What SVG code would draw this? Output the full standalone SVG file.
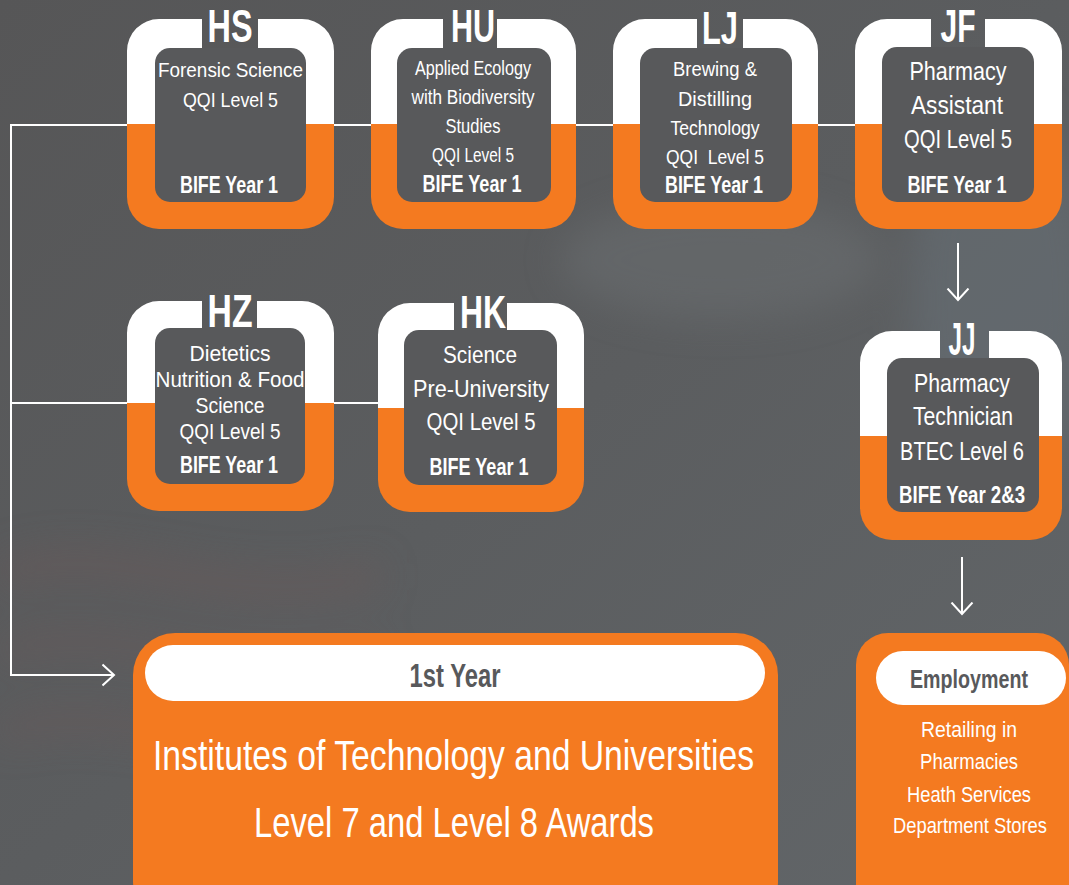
<svg xmlns="http://www.w3.org/2000/svg" width="1069" height="885" viewBox="0 0 1069 885">
<defs>
<style>
.w{fill:#ffffff}
.o{fill:#f47a20}
.in{fill:#58595b}
.t{font-family:"Liberation Sans Narrow","Liberation Sans",Arial,sans-serif;fill:#ffffff;text-anchor:middle}
.b{font-weight:bold}
.ttl{font-size:47px;font-weight:bold}
.g{fill:#58595b}
.con{fill:none;stroke:#ffffff;stroke-width:2}
</style>
<linearGradient id="bg" x1="0" y1="0" x2="1" y2="1">
<stop offset="0" stop-color="#565657"/>
<stop offset="0.5" stop-color="#5b5d5f"/>
<stop offset="1" stop-color="#626669"/>
</linearGradient>
<filter id="blur" x="-50%" y="-50%" width="200%" height="200%"><feGaussianBlur stdDeviation="18"/></filter>
<marker id="chev" viewBox="0 0 14 24" markerWidth="14" markerHeight="24" refX="12.5" refY="12" orient="auto" markerUnits="userSpaceOnUse">
<path d="M1,1.5 L12.5,12 L1,22.5" fill="none" stroke="#ffffff" stroke-width="2"/>
</marker>
</defs>
<rect width="1069" height="885" fill="url(#bg)"/>
<g filter="url(#blur)" opacity="0.5">
<ellipse cx="720" cy="260" rx="160" ry="60" fill="#6c7072"/>
<ellipse cx="1000" cy="300" rx="90" ry="200" fill="#687178"/>
<path d="M0,560 C120,520 220,600 380,560 L380,590 C220,630 120,550 0,590 Z" fill="#6a5a5a"/>
<path d="M0,640 C120,600 220,680 380,640 L380,665 C220,705 120,625 0,665 Z" fill="#6a5a5a"/>
<path d="M0,720 C120,680 220,760 380,720 L380,745 C220,785 120,705 0,745 Z" fill="#6a5a5a"/>
</g>
<g id="connectors">
<path class="con" d="M855,125 H11 V675 H114" marker-end="url(#chev)"/>
<path class="con" d="M11,403 H127 M334,403 H378"/>
<path class="con" d="M958,243 V300" marker-end="url(#chev)"/>
<path class="con" d="M962,557 V614" marker-end="url(#chev)"/>
</g>
<g id="node-HS">
<path class="w" d="M202,19 H159 A32 32 0 0 0 127,51 V124 H202 Z M258,19 H302 A32 32 0 0 1 334,51 V124 H258 Z"/>
<path class="o" d="M127,124 H334 V197 A32 32 0 0 1 302,229 H159 A32 32 0 0 1 127,197 Z"/>
<rect class="in" x="155" y="48" width="151" height="154" rx="15"/>
<text class="t ttl" x="230" y="42" textLength="45" lengthAdjust="spacingAndGlyphs">HS</text>
<text class="t" x="230.5" y="77" font-size="21" textLength="145" lengthAdjust="spacingAndGlyphs">Forensic Science</text>
<text class="t" x="230.5" y="107" font-size="21" textLength="95" lengthAdjust="spacingAndGlyphs">QQI Level 5</text>
<text class="t b" x="229" y="193" font-size="24" textLength="98" lengthAdjust="spacingAndGlyphs">BIFE Year 1</text>
</g>
<g id="node-HU">
<path class="w" d="M443,19 H403 A32 32 0 0 0 371,51 V124 H443 Z M497,19 H544 A32 32 0 0 1 576,51 V124 H497 Z"/>
<path class="o" d="M371,124 H576 V197 A32 32 0 0 1 544,229 H403 A32 32 0 0 1 371,197 Z"/>
<rect class="in" x="397" y="48" width="154" height="154" rx="15"/>
<text class="t ttl" x="473" y="42" textLength="44" lengthAdjust="spacingAndGlyphs">HU</text>
<text class="t" x="473" y="75" font-size="19.5" textLength="116" lengthAdjust="spacingAndGlyphs">Applied Ecology</text>
<text class="t" x="473" y="104" font-size="19.5" textLength="123" lengthAdjust="spacingAndGlyphs">with Biodiversity</text>
<text class="t" x="473" y="133" font-size="19.5" textLength="55" lengthAdjust="spacingAndGlyphs">Studies</text>
<text class="t" x="473" y="162" font-size="19.5" textLength="82" lengthAdjust="spacingAndGlyphs">QQI Level 5</text>
<text class="t b" x="472" y="192" font-size="24" textLength="99" lengthAdjust="spacingAndGlyphs">BIFE Year 1</text>
</g>
<g id="node-LJ">
<path class="w" d="M697,19 H645 A32 32 0 0 0 613,51 V124 H697 Z M743,19 H786 A32 32 0 0 1 818,51 V124 H743 Z"/>
<path class="o" d="M613,124 H818 V197 A32 32 0 0 1 786,229 H645 A32 32 0 0 1 613,197 Z"/>
<rect class="in" x="640" y="48" width="152" height="154" rx="15"/>
<text class="t ttl" x="720" y="44" textLength="36" lengthAdjust="spacingAndGlyphs">LJ</text>
<text class="t" x="715" y="76" font-size="20" textLength="84" lengthAdjust="spacingAndGlyphs">Brewing &amp;</text>
<text class="t" x="715" y="106" font-size="20" textLength="74" lengthAdjust="spacingAndGlyphs">Distilling</text>
<text class="t" x="715" y="135" font-size="20" textLength="89" lengthAdjust="spacingAndGlyphs">Technology</text>
<text class="t" x="715" y="164" font-size="20" textLength="98" lengthAdjust="spacingAndGlyphs" xml:space="preserve">QQI  Level 5</text>
<text class="t b" x="714" y="193" font-size="24" textLength="98" lengthAdjust="spacingAndGlyphs">BIFE Year 1</text>
</g>
<g id="node-JF">
<path class="w" d="M931,19 H887 A32 32 0 0 0 855,51 V124 H931 Z M985,19 H1030 A32 32 0 0 1 1062,51 V124 H985 Z"/>
<path class="o" d="M855,124 H1062 V197 A32 32 0 0 1 1030,229 H887 A32 32 0 0 1 855,197 Z"/>
<rect class="in" x="882" y="47" width="152" height="155" rx="15"/>
<text class="t ttl" x="958" y="42" textLength="35" lengthAdjust="spacingAndGlyphs">JF</text>
<text class="t" x="958" y="80" font-size="25" textLength="97" lengthAdjust="spacingAndGlyphs">Pharmacy</text>
<text class="t" x="957" y="114" font-size="25" textLength="92" lengthAdjust="spacingAndGlyphs">Assistant</text>
<text class="t" x="958" y="148" font-size="25" textLength="108" lengthAdjust="spacingAndGlyphs">QQI Level 5</text>
<text class="t b" x="957" y="193" font-size="24" textLength="99" lengthAdjust="spacingAndGlyphs">BIFE Year 1</text>
</g>
<g id="node-HZ">
<path class="w" d="M202,301 H159 A32 32 0 0 0 127,333 V403 H202 Z M257,301 H302 A32 32 0 0 1 334,333 V403 H257 Z"/>
<path class="o" d="M127,403 H334 V479 A32 32 0 0 1 302,511 H159 A32 32 0 0 1 127,479 Z"/>
<rect class="in" x="155" y="328" width="150" height="156" rx="15"/>
<text class="t ttl" x="230" y="327" textLength="45" lengthAdjust="spacingAndGlyphs">HZ</text>
<text class="t" x="230" y="361" font-size="22" textLength="81" lengthAdjust="spacingAndGlyphs">Dietetics</text>
<text class="t" x="230" y="387" font-size="22" textLength="149" lengthAdjust="spacingAndGlyphs">Nutrition &amp; Food</text>
<text class="t" x="230" y="413" font-size="22" textLength="69" lengthAdjust="spacingAndGlyphs">Science</text>
<text class="t" x="230" y="439" font-size="22" textLength="101" lengthAdjust="spacingAndGlyphs">QQI Level 5</text>
<text class="t b" x="229" y="473" font-size="24" textLength="98" lengthAdjust="spacingAndGlyphs">BIFE Year 1</text>
</g>
<g id="node-HK">
<path class="w" d="M454,303 H410 A32 32 0 0 0 378,335 V408 H454 Z M507,303 H552 A32 32 0 0 1 584,335 V408 H507 Z"/>
<path class="o" d="M378,408 H584 V480 A32 32 0 0 1 552,512 H410 A32 32 0 0 1 378,480 Z"/>
<rect class="in" x="404" y="330" width="153" height="155" rx="15"/>
<text class="t ttl" x="483" y="328" textLength="46" lengthAdjust="spacingAndGlyphs">HK</text>
<text class="t" x="480" y="363" font-size="24" textLength="74" lengthAdjust="spacingAndGlyphs">Science</text>
<text class="t" x="481" y="397" font-size="24" textLength="136" lengthAdjust="spacingAndGlyphs">Pre-University</text>
<text class="t" x="481" y="430" font-size="24" textLength="109" lengthAdjust="spacingAndGlyphs">QQI Level 5</text>
<text class="t b" x="479" y="475" font-size="24" textLength="99" lengthAdjust="spacingAndGlyphs">BIFE Year 1</text>
</g>
<g id="node-JJ">
<path class="w" d="M940,331 H892 A32 32 0 0 0 860,363 V436 H940 Z M989,331 H1030 A32 32 0 0 1 1062,363 V436 H989 Z"/>
<path class="o" d="M860,436 H1062 V508 A32 32 0 0 1 1030,540 H892 A32 32 0 0 1 860,508 Z"/>
<rect class="in" x="887" y="358" width="152" height="154" rx="15"/>
<text class="t ttl" x="962" y="355" textLength="27" lengthAdjust="spacingAndGlyphs">JJ</text>
<text class="t" x="962" y="392" font-size="25" textLength="96" lengthAdjust="spacingAndGlyphs">Pharmacy</text>
<text class="t" x="963" y="425" font-size="25" textLength="100" lengthAdjust="spacingAndGlyphs">Technician</text>
<text class="t" x="962" y="460" font-size="25" textLength="124" lengthAdjust="spacingAndGlyphs">BTEC Level 6</text>
<text class="t b" x="962" y="503" font-size="24" textLength="126" lengthAdjust="spacingAndGlyphs">BIFE Year 2&amp;3</text>
</g>
<g id="node-university">
<rect class="o" x="133" y="633" width="645" height="290" rx="42"/>
<rect class="w" x="145" y="645" width="620" height="56" rx="28"/>
<text class="t b g" x="455" y="687" font-size="33" textLength="91" lengthAdjust="spacingAndGlyphs">1st Year</text>
<text class="t" x="453.5" y="770" font-size="42" textLength="601" lengthAdjust="spacingAndGlyphs">Institutes of Technology and Universities</text>
<text class="t" x="454" y="837" font-size="42" textLength="400" lengthAdjust="spacingAndGlyphs">Level 7 and Level 8 Awards</text>
</g>
<g id="node-employment">
<rect class="o" x="856" y="633" width="213" height="290" rx="32"/>
<rect class="w" x="876" y="651" width="190" height="54" rx="27"/>
<text class="t b g" x="969" y="688" font-size="26" textLength="118" lengthAdjust="spacingAndGlyphs">Employment</text>
<text class="t" x="969" y="737" font-size="22" textLength="96" lengthAdjust="spacingAndGlyphs">Retailing in</text>
<text class="t" x="969" y="769" font-size="22" textLength="98" lengthAdjust="spacingAndGlyphs">Pharmacies</text>
<text class="t" x="969" y="802" font-size="22" textLength="124" lengthAdjust="spacingAndGlyphs">Heath Services</text>
<text class="t" x="970" y="833" font-size="22" textLength="154" lengthAdjust="spacingAndGlyphs">Department Stores</text>
</g>
</svg>
